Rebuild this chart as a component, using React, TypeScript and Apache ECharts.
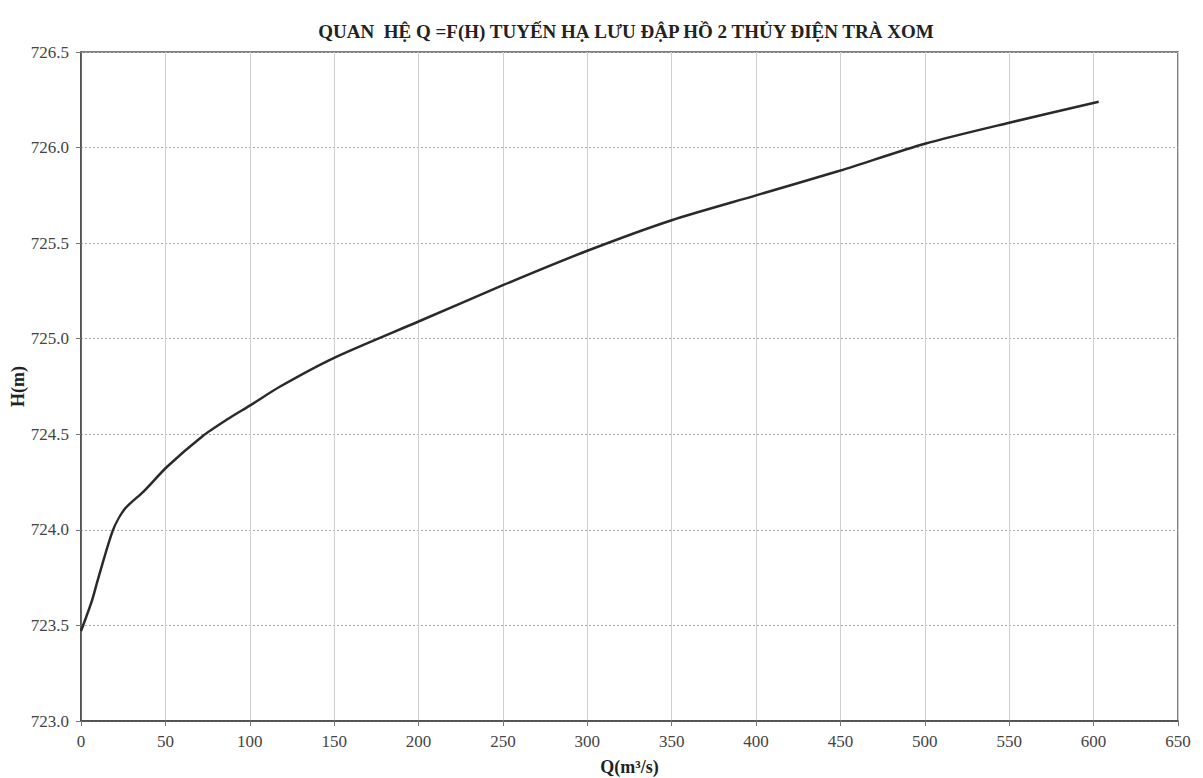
import React, { useEffect, useRef } from "react";
import * as echarts from "echarts";

const TITLE = "QUAN  HỆ Q =F(H) TUYẾN HẠ LƯU ĐẬP HỒ 2 THỦY ĐIỆN TRÀ XOM";
const X_NAME = "Q(m³/s)";
const Y_NAME = "H(m)";

const qValues = [0, 6.5, 10, 19, 26, 37, 51, 72, 87, 100, 118, 150, 200, 250, 300, 350, 400, 450, 500, 550, 603];
const hValues = [723.47, 723.63, 723.74, 724.0, 724.11, 724.2, 724.33, 724.49, 724.58, 724.65, 724.75, 724.9, 725.09, 725.28, 725.46, 725.62, 725.75, 725.88, 726.02, 726.13, 726.24];

const FONT = "'Liberation Serif', 'DejaVu Serif', serif";

export default function App() {
  const ref = useRef<HTMLDivElement>(null);
  useEffect(() => {
    if (!ref.current) return;
    const chart = echarts.init(ref.current, undefined, { renderer: "svg" });
    const data = qValues.map((q, i) => [q, hValues[i]]);
    chart.setOption({
      animation: false,
      backgroundColor: "#ffffff",
      title: {
        text: TITLE,
        left: 621,
        textAlign: "center",
        top: 17,
        textStyle: { fontFamily: FONT, fontWeight: "bold", fontSize: 19, color: "#222" },
      },
      grid: {
        left: 81,
        top: 52,
        right: 25,
        bottom: 57,
        containLabel: false,
        outerBoundsMode: "none",
        show: true,
        borderColor: "#555",
        borderWidth: 1.5,
        backgroundColor: "transparent",
      },
      xAxis: {
        type: "value",
        min: 0,
        max: 650,
        interval: 50,
        name: X_NAME,
        nameLocation: "middle",
        nameGap: 37,
        nameMoveOverlap: false,
        nameTextStyle: { fontFamily: FONT, fontWeight: "bold", fontSize: 18, color: "#222" },
        axisLine: { show: true, lineStyle: { color: "#444", width: 1.5 } },
        axisTick: { show: true, length: 5, lineStyle: { color: "#777" } },
        axisLabel: { fontFamily: FONT, fontSize: 17, color: "#444", margin: 12 },
        splitLine: { show: true, lineStyle: { color: "#cfcfcf", width: 1 } },
      },
      yAxis: {
        type: "value",
        min: 723,
        max: 726.5,
        interval: 0.5,
        name: Y_NAME,
        nameLocation: "middle",
        nameGap: 54,
        nameRotate: 90,
        nameMoveOverlap: false,
        nameTextStyle: { fontFamily: FONT, fontWeight: "bold", fontSize: 18, color: "#222" },
        axisLine: { show: true, lineStyle: { color: "#444", width: 1.5 } },
        axisTick: { show: true, length: 5, lineStyle: { color: "#777" } },
        axisLabel: {
          fontFamily: FONT,
          fontSize: 17,
          color: "#444",
          margin: 12,
          formatter: (v: number) => v.toFixed(1),
        },
        splitLine: { show: true, lineStyle: { color: "#a8a8a8", width: 1, type: [2, 2] } },
      },
      series: [
        {
          type: "line",
          data,
          showSymbol: false,
          smooth: 0.25,
          lineStyle: { color: "#2a2a2a", width: 2.5 },
        },
      ],
    });
    return () => chart.dispose();
  }, []);
  return (
    <div
      ref={ref}
      style={{ position: "absolute", left: 0, top: 0, width: 1203, height: 778 }}
    />
  );
}
